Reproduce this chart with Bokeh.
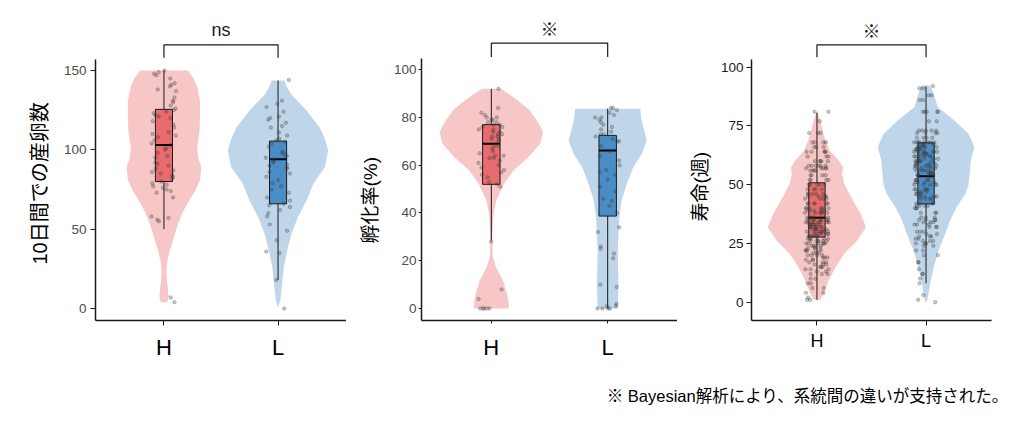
from bokeh.plotting import figure
from bokeh.layouts import row, column
from bokeh.models import ColumnDataSource, FixedTicker, Range1d, Title
from bokeh.transform import jitter
from bokeh.embed import file_html
from bokeh.resources import INLINE
from bokeh.core.properties import value
import numpy as np

# ---------------- data ----------------
groups = ["H", "L"]

# Panel 1: 10日間での産卵数
eggs_H = [150, 149, 148, 147, 145, 142, 141, 140, 138, 137, 133, 131, 130, 128, 126, 125, 124, 123,
          122, 121, 120, 118, 116, 114, 111, 110, 109, 108, 106, 104, 103, 101, 100, 98, 96, 95, 92,
          91, 90, 88, 87, 86, 85, 84, 83, 82, 80, 79, 78, 77, 76, 75, 74, 73, 70, 58, 57, 56, 55, 7, 4]
eggs_L = [144, 131, 129, 127, 124, 121, 120, 119, 117, 115, 114, 111, 109, 107, 106, 105, 104, 102,
          99, 98, 97, 96, 95, 94, 93, 92, 91, 90, 89, 88, 86, 85, 83, 81, 79, 77, 75, 73, 70, 68, 66,
          65, 64, 62, 60, 58, 53, 49, 43, 36, 35, 18, 0]
# violin density profile (value, half width in category units)
eggs_H_vy = [4, 8, 12, 18, 25, 30, 37, 45, 52, 60, 68, 75, 81, 89, 95, 102, 110, 120, 131, 140, 145, 150]
eggs_H_vw = [0.03, 0.04, 0.035, 0.025, 0.022, 0.03, 0.053, 0.088, 0.117, 0.16, 0.22, 0.28, 0.316,
             0.327, 0.30, 0.29, 0.31, 0.316, 0.316, 0.29, 0.26, 0.21]
eggs_L_vy = [0.4, 5, 15.5, 26, 36.6, 47, 57.6, 68, 78.6, 89, 99.6, 107, 114, 124.8, 135, 140, 143.7]
eggs_L_vw = [0.0, 0.02, 0.036, 0.05, 0.08, 0.117, 0.175, 0.25, 0.31, 0.41, 0.44, 0.41, 0.365, 0.25,
             0.114, 0.075, 0.056]
# box stats: whisker low, q1, median, q3, whisker high
eggs_box_H = [50, 80, 103, 125.5, 150]
eggs_box_L = [18, 66, 94, 105.5, 143.7]

# Panel 2: 孵化率(%)
hatch_H = [92, 84, 82, 81, 80, 80, 79, 79, 78, 78, 77, 77, 76, 76, 75, 75, 74, 74, 73, 73, 72, 72, 71,
           71, 70, 69, 68, 68, 67, 66, 65, 64, 64, 63, 63, 62, 61, 60, 59, 58, 57, 56, 55, 53, 52, 51,
           28, 8, 4, 0, 0, 0, 0, 0]
hatch_L = [84, 84, 83, 82, 81, 80, 80, 79, 78, 77, 76, 75, 74, 73, 73, 72, 71, 70, 70, 68, 66, 64, 62,
           60, 58, 57, 56, 54, 51, 49, 46, 45, 43, 40, 34, 32, 26, 25, 23, 21, 10, 9, 2, 1, 1, 0, 0, 0, 0]
hatch_H_vy = [0, 2, 6, 11.7, 17.3, 22, 31, 40, 45.3, 52.2, 57.8, 63.4, 69, 73.9, 77.4, 83, 87, 90, 92]
hatch_H_vw = [0.15, 0.15, 0.135, 0.10, 0.04, 0.012, 0.009, 0.02, 0.043, 0.11, 0.19, 0.32, 0.42, 0.445,
              0.41, 0.33, 0.23, 0.144, 0.08]
hatch_L_vy = [0, 10, 24, 31, 38.3, 45.3, 52.2, 59.2, 64.8, 70.4, 76, 80.2, 83.7]
hatch_L_vw = [0.086, 0.093, 0.086, 0.093, 0.10, 0.12, 0.165, 0.22, 0.293, 0.336, 0.305, 0.287, 0.28]
hatch_box_H = [28.5, 52, 69, 77, 92]
hatch_box_L = [0, 38.7, 66.2, 72.5, 83.7]

# Panel 3: 寿命(週)  (week value, number of individuals)
life_H_weeks = [81, 77, 72, 68, 66, 64, 62, 60, 58, 57, 56, 54, 52, 50, 48, 46, 45, 44, 42, 40, 39, 38,
                36, 35, 34, 33, 32, 31, 30, 29, 28, 27, 26, 25, 24, 23, 22, 21, 20, 19, 18, 17, 16, 15,
                14, 13, 12, 10, 8, 6, 4, 2, 1]
life_H_counts = [2, 1, 3, 4, 3, 5, 3, 5, 6, 5, 4, 4, 4, 5, 4, 5, 4, 4, 6, 6, 5, 6, 8, 7, 7, 6, 7, 6, 7,
                 5, 6, 5, 6, 6, 4, 4, 4, 3, 4, 3, 3, 3, 3, 3, 3, 2, 3, 2, 2, 2, 2, 1, 2]
life_L_weeks = [92, 91, 88, 86, 81, 77, 73, 72, 70, 68, 67, 66, 65, 64, 63, 62, 61, 60, 59, 58, 57, 56,
                55, 54, 52, 51, 50, 48, 47, 46, 45, 44, 42, 41, 40, 38, 36, 35, 34, 33, 32, 30, 29, 28,
                27, 26, 25, 24, 22, 20, 17, 14, 12, 10, 8, 3, 1, 0]
life_L_counts = [1, 2, 2, 2, 5, 2, 5, 4, 4, 8, 4, 6, 5, 7, 5, 6, 4, 7, 4, 6, 4, 5, 4, 5, 5, 4, 5, 5, 3,
                 4, 4, 4, 4, 4, 3, 3, 3, 4, 3, 3, 3, 3, 2, 3, 2, 3, 3, 2, 2, 2, 2, 1, 2, 1, 1, 1, 1, 1]
life_H_vy = [1, 3.5, 9.2, 14.9, 20.6, 26.2, 31.9, 37.6, 43.3, 50.4, 54.6, 57.4, 60.3, 64.5, 71.6, 77.3, 80.9]
life_H_vw = [0.03, 0.06, 0.107, 0.17, 0.25, 0.37, 0.45, 0.40, 0.33, 0.25, 0.23, 0.24, 0.20, 0.115,
             0.06, 0.03, 0.005]
life_L_vy = [0, 0.7, 7.8, 14.9, 22, 29, 34.8, 40.4, 46, 50, 54.6, 60.3, 66, 71.6, 77.3, 83, 88.7, 92.2]
life_L_vw = [0.0, 0.012, 0.038, 0.07, 0.115, 0.175, 0.22, 0.28, 0.36, 0.39, 0.40, 0.41, 0.443, 0.39,
             0.26, 0.107, 0.07, 0.04]
life_box_H = [1, 27.7, 35.9, 50.8, 80.6]
life_box_L = [8, 41.8, 53.6, 67.8, 91.8]

y_titles = ["10日間での産卵数", "孵化率(%)", "寿命(週)"]
sig_marks = ["ns", "※", "※"]
y_ticks = [[0, 50, 100, 150], [0, 20, 40, 60, 80, 100], [0, 25, 50, 75, 100]]
footnote = "※ Bayesian解析により、系統間の違いが支持された。"

# ---------------- style ----------------
VIOLIN_FILL = ["#F7C6C7", "#BFD6EA"]
BOX_FILL = ["#E86B6D", "#4A8DC6"]
JP = "Noto Sans CJK JP"
LAT = "Liberation Sans"
MIX = "'Liberation Sans', 'Noto Sans CJK JP'"


def make_panel(width, mbl, mbr, yr, ybound, ticks, title, title_off, title_standoff, mark, brk,
               pts, profs, boxes, tick_col, tick_size, tick_out, tick_standoff,
               xlab_size, xlab_standoff, ylab_size):
    p = figure(width=width, height=368, output_backend="svg", toolbar_location=None,
               x_range=Range1d(0.4, 2.6), y_range=Range1d(*yr),
               min_border_left=mbl, min_border_right=mbr, min_border_top=10, min_border_bottom=48)
    p.outline_line_color = None
    p.grid.visible = False
    p.background_fill_color = "white"
    p.border_fill_color = "white"

    for i in range(2):
        cx = i + 1
        vy, vw = profs[i]
        vy = np.asarray(vy, float)
        vw = np.asarray(vw, float)
        xs = np.concatenate([cx + vw, (cx - vw)[::-1]])
        ys = np.concatenate([vy, vy[::-1]])
        p.patch(xs, ys, fill_color=VIOLIN_FILL[i], line_color=None)

        lo, q1, med, q3, hi = boxes[i]
        p.segment(x0=[cx], y0=[lo], x1=[cx], y1=[hi], line_color="#1a1a1a", line_width=1)
        p.quad(left=[cx - 0.075], right=[cx + 0.075], bottom=[q1], top=[q3],
               fill_color=BOX_FILL[i], line_color="#1a1a1a", line_width=1)
        p.segment(x0=[cx - 0.075], y0=[med], x1=[cx + 0.075], y1=[med],
                  line_color="black", line_width=2)

        src = ColumnDataSource(dict(x=[cx] * len(pts[i]), y=pts[i]))
        p.scatter(x=jitter("x", width=0.22, distribution="uniform"), y="y", source=src,
                  size=3.5, fill_color="#3a3a3a", fill_alpha=0.27,
                  line_color="#3a3a3a", line_alpha=0.27)

    # significance bracket
    leg, top, ty = brk
    p.line(x=[1, 1, 2, 2], y=[leg, top, top, leg], line_color="#1a1a1a", line_width=1.2)
    p.text(x=[1.5], y=[ty], text=[mark], text_align="center", text_baseline="middle",
           text_font=value(LAT if mark == "ns" else JP), text_font_size="18px",
           text_color="#1a1a1a")

    xa = p.xaxis[0]
    xa.ticker = FixedTicker(ticks=[1, 2])
    xa.major_label_overrides = {1: groups[0], 2: groups[1]}
    xa.major_label_text_font = LAT
    xa.major_label_text_font_size = xlab_size
    xa.major_label_text_color = "black"
    xa.major_label_standoff = xlab_standoff
    xa.major_tick_out = tick_out
    xa.major_tick_in = 0
    xa.minor_tick_line_color = None
    xa.axis_line_width = 1.5
    xa.axis_line_color = "#1a1a1a"
    xa.major_tick_line_color = "#1a1a1a"

    ya = p.yaxis[0]
    ya.ticker = FixedTicker(ticks=ticks)
    ya.bounds = (yr[0], ybound)
    ya.major_label_text_font = LAT
    ya.major_label_text_font_size = tick_size
    ya.major_label_text_color = tick_col
    ya.major_label_standoff = tick_standoff
    ya.major_tick_out = tick_out
    ya.major_tick_in = 0
    ya.minor_tick_line_color = None
    ya.axis_line_width = 1.5
    ya.axis_line_color = "#1a1a1a"
    ya.major_tick_line_color = "#1a1a1a"

    # y-axis title placed in the left panel, centred on the axis line (not the whole frame)
    p.add_layout(Title(text=title, align="left", offset=title_off, vertical_align="bottom",
                       standoff=title_standoff, text_font=MIX, text_font_size=ylab_size,
                       text_font_style="normal", text_color="black"), "left")
    return p


def expand(weeks, counts):
    return list(np.repeat(weeks, counts))


p1 = make_panel(346, 95, 0, (-7.56, 187.8), 157, y_ticks[0], y_titles[0], 56, 19, sig_marks[0],
                (158, 166.2, 175.8), [eggs_H, eggs_L],
                [(eggs_H_vy, eggs_H_vw), (eggs_L_vy, eggs_L_vw)], [eggs_box_H, eggs_box_L],
                "#4d4d4d", "13.5px", 5, 4, "22px", 9, "20px")
p2 = make_panel(331, 75, 0, (-5.03, 124.8), 104.7, y_ticks[1], y_titles[1], 77, 19, sig_marks[1],
                (105.3, 111.1, 117.3), [hatch_H, hatch_L],
                [(hatch_H_vy, hatch_H_vw), (hatch_L_vy, hatch_L_vw)], [hatch_box_H, hatch_box_L],
                "#4d4d4d", "13.5px", 3, 2, "22px", 11, "19px")
p3 = make_panel(339, 74, 25, (-7.8, 124.1), 103.1, y_ticks[2], y_titles[2], 99, 13, sig_marks[2],
                (104.2, 109.5, 115.6),
                [expand(life_H_weeks, life_H_counts), expand(life_L_weeks, life_L_counts)],
                [(life_H_vy, life_H_vw), (life_L_vy, life_L_vw)], [life_box_H, life_box_L],
                "#1a1a1a", "13.5px", 5, 3, "18px", 5, "19px")

pf = figure(width=1016, height=47, output_backend="svg", toolbar_location=None,
            x_range=Range1d(0, 1016), y_range=Range1d(0, 47),
            min_border=0, min_border_left=0, min_border_right=0, min_border_top=0, min_border_bottom=0)
pf.axis.visible = False
pf.grid.visible = False
pf.outline_line_color = None
pf.text(x=[1008], y=[19.5], text=[footnote], text_align="right", text_baseline="middle",
        text_font=value(MIX), text_font_size="16.5px", text_color="black")

layout = column(row(p1, p2, p3), pf)
open("out.html", "w").write(file_html(layout, INLINE))
